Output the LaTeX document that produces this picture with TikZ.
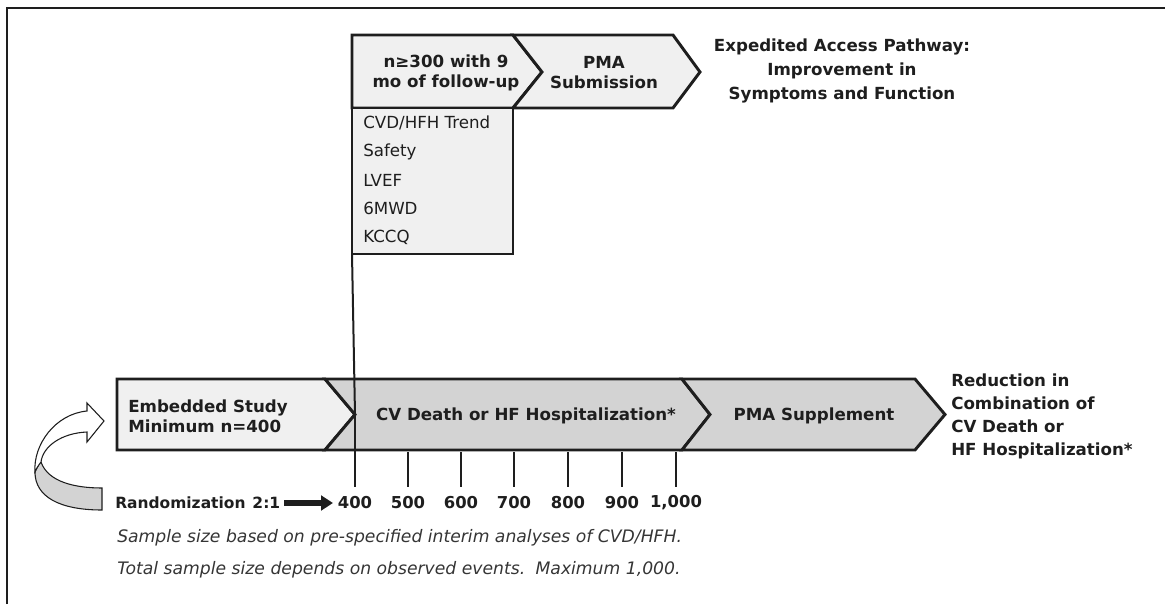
\documentclass[tikz,border=0pt]{standalone}
\usepackage{fontspec}
\setmainfont{DejaVu Sans}
\usetikzlibrary{arrows.meta}
\definecolor{lightfill}{HTML}{F0F0F0}
\definecolor{midfill}{HTML}{D3D3D3}
\definecolor{ink}{HTML}{1E1E1E}
\tikzset{
  chev/.style={draw=ink, line width=2.2pt, line join=miter},
  lab/.style={text=ink, font=\fontsize{12.5}{15}\selectfont\bfseries, inner sep=0pt},
  listtxt/.style={text=ink, font=\fontsize{12.5}{15}\selectfont, inner sep=0pt, anchor=west},
  ticklab/.style={text=ink, font=\fontsize{12.3}{14}\selectfont\bfseries, inner sep=0pt},
  ital/.style={text=ink!90, font=\fontsize{12.9}{15}\selectfont\itshape, inner sep=0pt, anchor=west},
  tickline/.style={draw=ink, line width=1.5pt},
}
\begin{document}
\begin{tikzpicture}[x=0.75pt,y=-0.75pt]
\useasboundingbox (0,0) rectangle (1165,604);
% outer frame (top and left visible)
\draw[ink, line width=2pt] (7,604) -- (7,8) -- (1165,8);

% ---- top pathway ----
\draw[chev, fill=lightfill] (352,35) -- (513,35) -- (542,72) -- (513,108) -- (352,108) -- cycle;
\draw[chev, fill=lightfill] (513,35) -- (673,35) -- (700,72) -- (673,108) -- (513,108) -- (542,72) -- cycle;
\node[lab, align=center] (n300) at (446,73) {n≥300 with 9\\mo of follow-up};
\node[lab, align=center] (pma) at (604,73) {PMA\\Submission};
\node[lab, align=center, font=\fontsize{12.5}{18}\selectfont\bfseries] (eap) at (842,71) {Expedited Access Pathway:\\Improvement in\\Symptoms and Function};

% list box
\draw[chev, fill=lightfill] (352,108) rectangle (513,254);
\coordinate (listbl) at (352,254);
\node[listtxt] (l1) at (363,123) {CVD/HFH Trend};
\node[listtxt] (l2) at (363,152) {Safety};
\node[listtxt] (l3) at (363,180) {LVEF};
\node[listtxt] (l4) at (363,208) {6MWD};
\node[listtxt] (l5) at (363,237) {KCCQ};

% ---- main bar ----
\draw[chev, fill=lightfill] (117,379) -- (325,379) -- (355,414.5) -- (325,450) -- (117,450) -- cycle;
\draw[chev, fill=midfill] (325,379) -- (682,379) -- (710,414.5) -- (682,450) -- (325,450) -- (355,414.5) -- cycle;
\draw[chev, fill=midfill] (682,379) -- (915,379) -- (945,414.5) -- (915,450) -- (682,450) -- (710,414.5) -- cycle;
\coordinate (tip1) at (355,414.5);
\node[lab, anchor=west, align=left] (emb) at (128,416) {Embedded Study\\Minimum n=400};
\node[lab] (cvd) at (526,416) {CV Death or HF Hospitalization*};
\node[lab] (pmas) at (814,416) {PMA Supplement};
\node[lab, anchor=west, align=left, font=\fontsize{12.5}{17.2}\selectfont\bfseries] (red) at (951,416) {Reduction in\\Combination of\\CV Death or\\HF Hospitalization*};

% connector from list box to bar
\draw[tickline] (listbl) -- (tip1);

% ticks and labels
\foreach \x/\t [count=\i] in {355/400,408/500,461/600,514/700,568/800,622/900,676/{1,000}} {
  \coordinate (tt\i) at (\x,452);
  \coordinate (tb\i) at (\x,487);
  \draw[tickline] (tt\i) -- (tb\i);
  \node[ticklab] (tl\i) at (\x,503) {\t};
}
\draw[tickline] (tip1) -- (tt1);

% randomization
\node[ticklab, anchor=west, font=\fontsize{11.6}{14}\selectfont\bfseries] (rand) at (115,503) {Randomization\hspace{0.45em}2:1};
\coordinate (ra1) at (284,503);
\coordinate (ra2) at (333,503);
\draw[ink, line width=4.5pt, -{Triangle[length=9pt,width=11pt]}] (ra1) -- (ra2);

\node[ital] (s1) at (117,538) {Sample size based on pre-specified interim analyses of CVD/HFH.};
\node[ital] (s2) at (117,570) {Total sample size depends on observed events.\hspace{0.6em}Maximum 1,000.};

% curled arrow
\draw[ink, line width=0.8pt, fill=midfill] (102,488) -- (102,510)
  .. controls (60,510) and (35,497) .. (35,472)
  .. controls (38,466) and (40,462) .. (41,462)
  .. controls (48,482) and (75,488) .. (102,488) -- cycle;
\draw[ink, line width=0.8pt, fill=white] (35,472)
  .. controls (33,445) and (55,414) .. (87,411) -- (87,403) -- (104,421) -- (87,442) -- (87,432)
  .. controls (62,433) and (43,446) .. (41,462)
  .. controls (38,466) and (36,469) .. (35,472) -- cycle;
\end{tikzpicture}
\end{document}
